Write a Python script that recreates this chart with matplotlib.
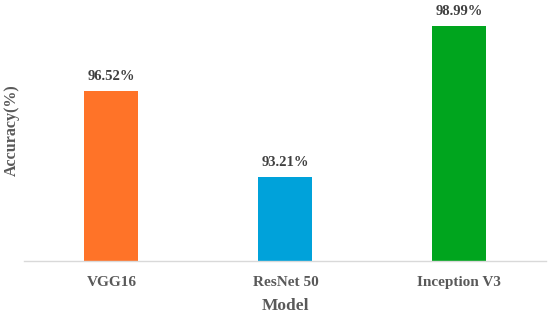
import matplotlib
matplotlib.use("Agg")
import matplotlib.pyplot as plt

# data
models = ["VGG16", "ResNet 50", "Inception V3"]
accuracy = [96.52, 93.21, 98.99]
colors = ["#FF7328", "#00A2DA", "#00A51E"]

plt.rcParams["font.family"] = ["Liberation Serif", "DejaVu Serif"]

fig = plt.figure(figsize=(5.5, 3.2), dpi=100)
ax = fig.add_axes([0.0445, 0.184, 0.949, 0.816])

x = range(len(models))
bars = ax.bar(x, accuracy, width=0.31, color=colors)

for xi, v in zip(x, accuracy):
    ax.annotate(f"{v:.2f}%", (xi, v), xytext=(0, 6), textcoords="offset points",
                ha="center", va="bottom", fontsize=10.5, fontweight="bold", color="#404040",
                annotation_clip=False)

ax.set_xlim(-0.5, 2.5)
ax.set_ylim(90, 100)
ax.set_xticks(list(x))
ax.set_xticklabels(models, fontsize=11, fontweight="bold", color="#595959")
ax.set_yticks([])
ax.tick_params(axis="x", length=0, pad=11)

for s in ["top", "right", "left"]:
    ax.spines[s].set_visible(False)
ax.spines["bottom"].set_color("#D9D9D9")
ax.spines["bottom"].set_linewidth(1)

ax.set_xlabel("Model", fontsize=12.5, fontweight="bold", color="#595959", labelpad=6)
ax.set_ylabel("Accuracy(%)", fontsize=11.5, fontweight="bold", color="#595959", labelpad=3)

fig.savefig("out.png", dpi=100)
